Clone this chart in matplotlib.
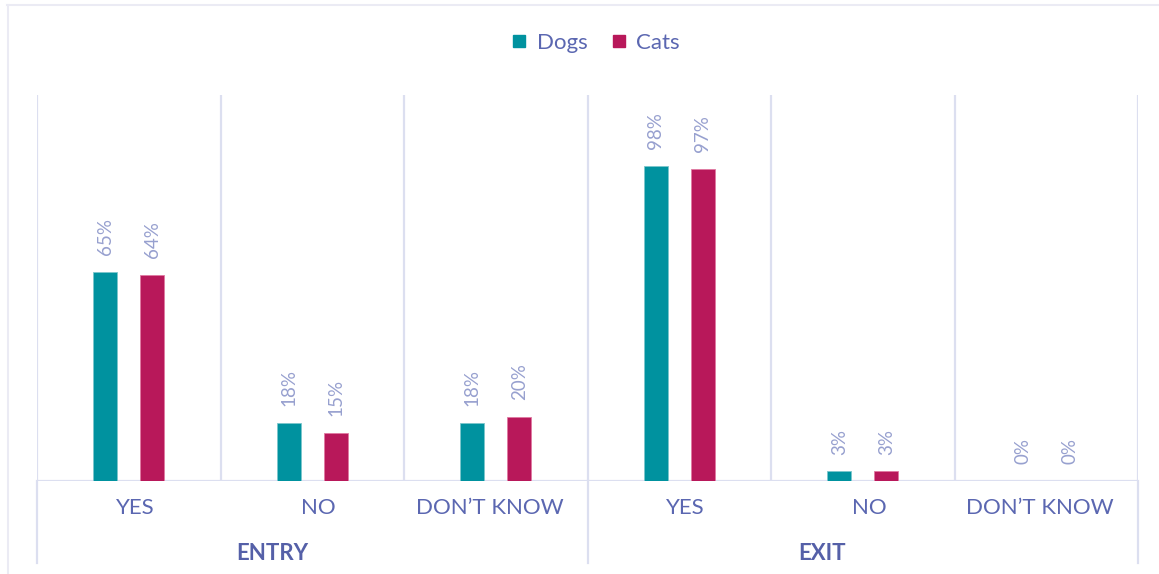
import matplotlib.pyplot as plt
import numpy as np
from matplotlib.lines import Line2D

plt.rcParams['font.family'] = ['Lato', 'DejaVu Sans']

# Data
groups = ["ENTRY", "EXIT"]
answers = ["YES", "NO", "DON\u2019T KNOW"]
series = ["Dogs", "Cats"]
dogs = [65, 18, 18, 98, 3, 0]
cats = [64, 15, 20, 97, 3, 0]

teal = "#00929f"
crimson = "#b8185a"
grid_c = "#dcdff0"
label_c = "#5b67b1"
value_c = "#97a0cf"

W, H = 1159, 574
fig = plt.figure(figsize=(W / 100, H / 100), dpi=100)
fig.patch.set_facecolor("white")

left, right, top, base = 37, 1138, 95, 481
ax = fig.add_axes([left / W, 1 - base / H, (right - left) / W, (base - top) / H])

n = len(groups) * len(answers)
x = np.arange(n)
bw, off = 0.13, 0.128

b1 = ax.bar(x - off, dogs, bw, color=teal, edgecolor="#7cc6cc", linewidth=0.6, zorder=3)
b2 = ax.bar(x + off, cats, bw, color=crimson, edgecolor="#e07aa2", linewidth=0.6, zorder=3)

for bars, vals in ((b1, dogs), (b2, cats)):
    for rect, v in zip(bars, vals):
        ax.annotate(f"{v}%", (rect.get_x() + rect.get_width() / 2, v),
                    xytext=(0, 12), textcoords="offset points",
                    rotation=90, ha="center", va="bottom",
                    fontsize=13.5, color=value_c)

ax.set_xlim(-0.5, n - 0.5)
ax.set_ylim(0, 120)
for s in ax.spines.values():
    s.set_visible(False)
ax.set_xticks([])
ax.set_yticks([])

# Category separators inside the plot area
for b in np.arange(-0.5, n, 1.0):
    ax.axvline(b, color=grid_c, lw=1.6, zorder=1)
ax.axhline(0, color=grid_c, lw=1.6, zorder=2)

# Group separators extend below the axis
ytr = ax.get_xaxis_transform()
for b in (-0.5, 2.5, 5.5):
    ax.add_line(Line2D([b, b], [0, -(563 - base) / (base - top)], transform=ytr,
                       color=grid_c, lw=1.6, clip_on=False))

# Category and group labels
label_shift = [0.035, 0.035, -0.035]
for i in range(n):
    k = i % len(answers)
    ax.text(i + label_shift[k], -(508 - base) / (base - top), answers[k], transform=ytr,
            ha="center", va="center", fontsize=16, color=label_c)
for g, name in enumerate(groups):
    ax.text(g * 3 + 1 - 0.22, -(553 - base) / (base - top), name, transform=ytr,
            ha="center", va="center", fontsize=16, fontweight="bold", color="#5560a8")

# Outer chart frame (top and left edges)
frame_c = "#ebebf4"
fig.add_artist(Line2D([7 / W, 1], [1 - 5 / H, 1 - 5 / H], color=frame_c, lw=1.5))
fig.add_artist(Line2D([8 / W, 8 / W], [0, 1 - 5 / H], color=frame_c, lw=1.5))

# Legend
handles = [Line2D([], [], marker="s", linestyle="none", markersize=9, color=c)
           for c in (teal, crimson)]
leg = fig.legend(handles, series, loc="center", bbox_to_anchor=(595 / W, 1 - 43 / H),
                 ncol=2, frameon=False, fontsize=16, handlelength=0.8,
                 handletextpad=0.4, columnspacing=1.0)
for t in leg.get_texts():
    t.set_color(label_c)

fig.savefig("out.png", dpi=100, facecolor="white")
